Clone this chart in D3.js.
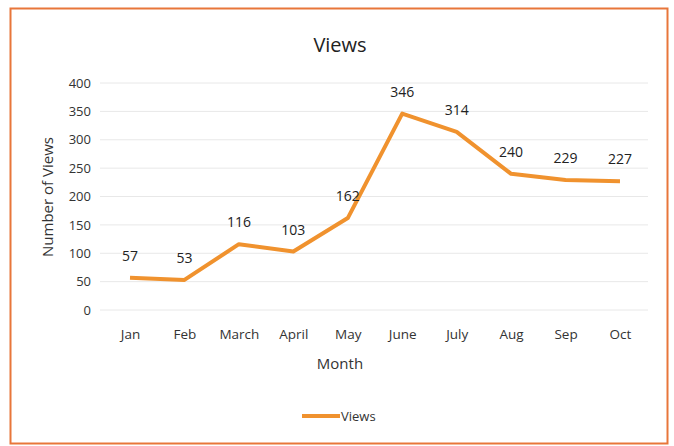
<!DOCTYPE html>
<html><head><meta charset="utf-8">
<script src="https://cdn.jsdelivr.net/npm/d3@7/dist/d3.min.js"></script>
<style>body{margin:0;background:#fff;}svg{display:block;font-family:"Open Sans","Liberation Sans",sans-serif;}</style>
</head><body>
<svg id="c" width="674" height="446"></svg>
<script>
const months = ["Jan","Feb","March","April","May","June","July","Aug","Sep","Oct"];
const views = [57,53,116,103,162,346,314,240,229,227];
const yTicks = [0,50,100,150,200,250,300,350,400];
const seriesName = "Views";

const svg = d3.select("#c");
svg.append("rect").attr("x",10.5).attr("y",8.5).attr("width",657).attr("height",435)
  .attr("fill","#fff").attr("stroke","#e8763a").attr("stroke-width",2);

const x = d3.scalePoint().domain(months).range([130,620]);
const y = d3.scaleLinear().domain([0,400]).range([310,83]);

// gridlines
svg.append("g").selectAll("line").data(yTicks).join("line")
  .attr("x1",100).attr("x2",648).attr("y1",d=>y(d)).attr("y2",d=>y(d))
  .attr("stroke","#e8e8e8").attr("stroke-width",1);

// y axis
const ya = svg.append("g").attr("transform","translate(91,0)")
  .call(d3.axisLeft(y).tickValues(yTicks).tickSize(0).tickPadding(0));
ya.select(".domain").remove();
ya.selectAll("text").attr("font-size",13).attr("fill","#333").attr("font-family","'Open Sans',sans-serif");

// x axis
const xa = svg.append("g").attr("transform","translate(0,329)")
  .call(d3.axisBottom(x).tickSize(0).tickPadding(0));
xa.select(".domain").remove();
xa.selectAll("text").attr("font-size",13.5).attr("fill","#333").attr("dy","0.71em").attr("font-family","'Open Sans',sans-serif");

// titles
svg.append("text").attr("x",340).attr("y",52).attr("text-anchor","middle")
  .attr("font-size",20).attr("fill","#222").text("Views");
svg.append("text").attr("x",340).attr("y",369).attr("text-anchor","middle")
  .attr("font-size",15).attr("fill","#333").text("Month");
svg.append("text").attr("transform","translate(53,197) rotate(-90)").attr("text-anchor","middle")
  .attr("font-size",15).attr("fill","#333").text("Number of Views");

// line
const line = d3.line().x((d,i)=>x(months[i])).y(d=>y(d));
svg.append("path").datum(views).attr("d",line).attr("fill","none")
  .attr("stroke","#f0922e").attr("stroke-width",4).attr("stroke-linejoin","round");

// labels
svg.append("g").selectAll("text").data(views).join("text")
  .attr("x",(d,i)=>x(months[i])).attr("y",d=>y(d)-17)
  .attr("text-anchor","middle").attr("font-size",14).attr("fill","#222").text(d=>d);

// legend
svg.append("line").attr("x1",302).attr("x2",340).attr("y1",416).attr("y2",416)
  .attr("stroke","#f0922e").attr("stroke-width",4);
svg.append("text").attr("x",341).attr("y",421).attr("font-size",13).attr("fill","#333").text(seriesName);
</script>
</body></html>
